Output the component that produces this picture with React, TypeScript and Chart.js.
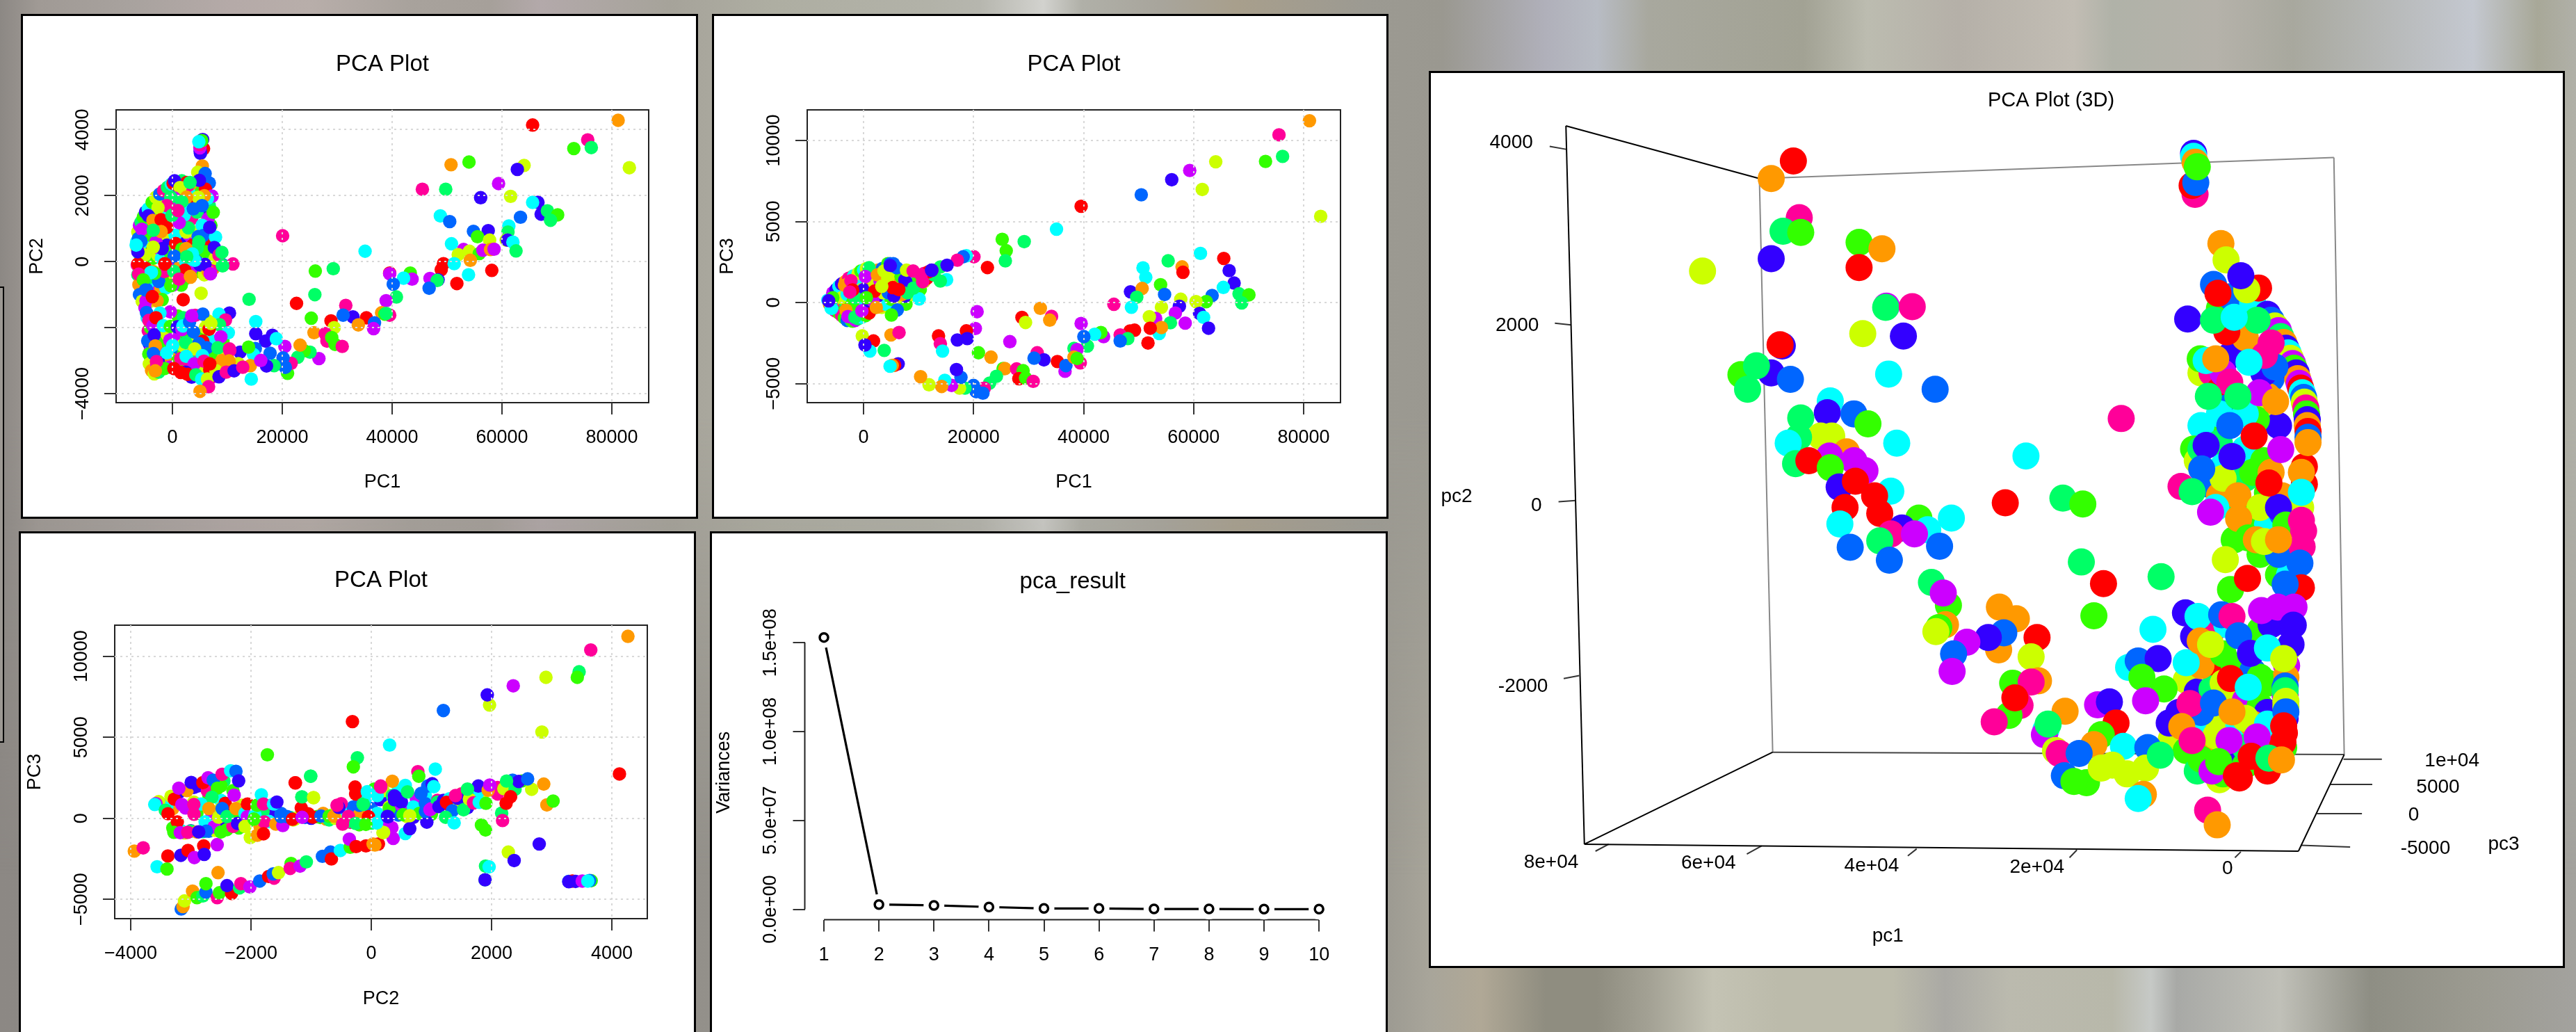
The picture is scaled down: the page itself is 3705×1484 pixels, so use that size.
import { useEffect, useRef } from "react";
import { Chart, registerables } from "chart.js";
Chart.register(...registerables);
Chart.defaults.font.family = "'Liberation Sans', Arial, sans-serif";
Chart.defaults.color = "#000";

type Pt = [number, number, number];
// R rainbow(10): 0 red,1 orange,2 yellow,3 green,4 spring,5 cyan,6 azure,7 blue,8 purple,9 pink
const rainbow10 = ["#FF0000","#FF9900","#CCFF00","#33FF00","#00FF66","#00FFFF","#0066FF","#3300FF","#CC00FF","#FF0099"];

const pc1Pc2Under: Pt[] = [
[-5800,800,6],[-5500,700,3],[-5300,1000,2],[-5000,1200,5],[-4700,1000,9],[-4300,1100,3],[-4000,1400,0],[-3600,1500,8],[-3300,1650,4],[-2900,1400,7],[-2600,1200,5],[-2200,1500,3],[-1900,1800,1],[-1500,1700,6],[-1200,1950,2],[-800,1500,5],[-600,1850,8],[-200,1700,9],[200,1500,1],[600,1900,3],[900,2100,7],[1300,1950,5],[1700,2150,9],[2000,1700,2],[2300,1500,8],[2800,1700,5],[3000,2050,6],[3400,2100,2],[3800,1850,4],[4200,2200,5],[4500,1750,0],[5000,1800,9],[5300,2200,3],[5700,1500,1],[6200,1600,7],[6700,1700,4],[7000,1100,3],[-5900,200,4],[-5500,400,8],[-5200,-100,1],[-4800,500,6],[-4500,200,7],[-4200,500,5],[-3800,300,0],[-3500,100,3],[-3200,300,6],[-2700,200,2],[-2400,400,8],[-2000,600,4],[-1500,700,2],[-1000,500,7],[-700,100,5],[-1000,-300,3],[-600,-500,0],[-200,-200,8],[200,-600,2],[700,-300,5],[900,100,6],[1200,300,9],[1800,900,3],[2200,600,7],[2600,300,4],[3200,700,8],[3700,500,0],[4000,900,2],[4300,200,6],[4800,-300,3],[5300,500,9],[5800,-400,2],[6300,600,7],[6700,200,5],[7300,300,4],[7500,-200,1],[8000,-100,9],[-5800,-300,2],[-5500,-700,7],[-5400,-900,3],[-5200,-500,6],[-4900,-200,0],[-4400,-800,8],[-4000,-1200,2],[-3800,-600,7],[-3400,-800,5],[-3000,-1000,4],[-2600,-900,8],[-2100,-800,1],[-1700,-600,3],[-1200,-800,5],
[-4600,-1700,5],[-4400,-2100,9],[-4200,-2500,7],[-4000,-2700,8],[-3900,-2950,4],[-3700,-3150,7],[-3400,-3250,5],[-2900,-2700,3],[-2600,-2200,7],[-2200,-2600,9],[-1800,-2400,1],[-1600,-2900,4],[-1200,-3000,7],[-800,-2500,3],[-300,-2800,2],[100,-2100,7],[700,-2400,9],[1100,-2700,6],[1400,-2200,2],[2000,-2800,3],[2300,-2100,1],[2800,-2600,8],[3100,-2300,4],[3400,-2800,6],[3700,-2500,9],[4300,-2900,4],[4700,-2700,8],[5100,-2200,3],[5600,-2700,1],[6100,-3000,7],[6600,-2600,4],[7100,-2400,5],[7500,-3000,6],[8100,-2900,9],[8700,-2800,2],[9200,-2400,3],[9500,-2100,1],[6100,-3300,3],[7200,-3500,8],[7000,-3500,9],[4500,-3300,2],[3300,-3300,1],[1800,-3100,3],[-200,-2950,1],
];

const pc1Pc2: Pt[] = [
[-6500,600,5],[-6400,400,1],[-6300,900,2],[-6200,700,6],[-6000,1100,8],[-5700,1200,4],[-5300,1350,3],[-4900,1500,7],[-4400,1600,5],[-3700,1800,3],[-3000,1950,2],[-2300,2050,6],[-1600,2150,9],[-900,2250,4],[-200,2350,5],[700,2350,3],[1700,2450,4],[2600,2400,0],[3300,2350,1],
[-6400,-100,9],[-6300,-400,4],[-6100,-700,1],[-6000,-1000,6],[-5500,-1200,2],[-5000,-1400,8],[-5000,200,2],[-4000,800,3],[-3000,600,8],[-2000,100,5],[-4500,-500,4],[-3500,-300,1],[-2500,-600,6],[-1500,-300,9],[-500,300,3],[500,800,5],[1500,500,7],[2500,900,2],[3500,1300,9],[4500,1500,4],[5500,1100,6],[6500,1300,8],[7000,600,0],[6000,300,3],[4500,400,4],[3000,100,5],[1500,-100,1],[2500,-500,3],[3500,-200,8],[5000,-100,7],[6500,-300,1],[7800,100,2],[8500,250,3],[9200,-100,6],[-3000,1000,5],
[-4500,-2400,6],[-4000,-2000,3],[-4300,-2800,3],[-4200,-3100,2],[-3800,-3300,1],[-3300,-3400,2],[-2500,-3350,4],[-3000,-2000,5],[-2000,-2300,3],[-1000,-2200,2],[500,-2200,8],[2500,-2200,3],[4500,-2400,2],[6000,-2000,2],[7000,-2800,3],[8000,-3200,2],[3000,-3200,9],[1000,-3000,3],[-500,-3200,8],[9000,-3000,1],
[1000,-1650,3],[2000,-1700,4],[6500,-1800,2],[7500,-1900,9],[3500,-3500,7],
[81140,4284,1],[65570,4141,0],[75600,3692,9],[76250,3458,4],[73070,3427,3],[83180,2846,2],[64020,2917,2],[62790,2795,7],[53990,3019,3],[50720,2938,1],[59370,2366,8],[45500,2193,9],[49750,2193,4],[56110,1938,7],[61570,1979,2],[66540,1795,7],[65570,1795,5],[67120,1438,7],[68260,1540,4],[70130,1418,3],[68830,1255,4],[63360,1346,6],[48770,1387,5],[50480,1214,6],[61240,1081,5],[61080,898,4],[54800,918,6],[57490,938,7],[55540,755,3],[57740,653,2],[60760,653,2],[61000,653,7],[61980,592,5],[50800,541,5],[62550,326,4],[53000,367,8],[52030,214,2],[54070,316,2],[55860,245,3],[56510,347,8],[57900,367,1],[58550,377,8],[54230,41,1],[49340,-61,0],[48930,-245,0],[51290,-61,5],[58140,-265,0],[53900,-398,5],[51780,-663,0],[48360,-551,7],[46890,-510,8],[48200,-571,4],[46730,-806,6],
[35070,316,5],[20060,785,9],[26010,-286,3],[29280,-214,4],[25930,-1000,4],[39550,-347,0],[39550,-367,8],[43300,-347,3],[43630,-530,8],[42080,-500,5],[40200,-683,6],[40780,-1071,4],[38900,-1183,8],[22590,-1265,0],[13950,-1142,4],[5220,-959,2],[1957,-1153,0],[31560,-1326,9],[39550,-1622,9],[38080,-1550,1],[38650,-1591,3],[38900,-1570,4],[35310,-1703,0],[32860,-1673,7],[31070,-1622,6],[33840,-1918,1],[36780,-1856,6],[36620,-2030,8],[28870,-1795,0],[25280,-1714,3],[29440,-2000,2],[25770,-2152,1],[27810,-2183,9],[28130,-2407,9],[29000,-2300,3],[29600,-2509,3],[30910,-2570,9],[26670,-2938,8],[25040,-2744,4],[24000,-2700,3],[22830,-2897,4],[23240,-2530,1],[20470,-2570,8],[20960,-3386,3],[21610,-3080,9],[20550,-3203,6],[20140,-2917,6],[18510,-3152,4],[17130,-3162,7],[17780,-2774,6],[18190,-2234,7],[16960,-2407,7],[15170,-2183,7],[18920,-2336,5],[15170,-1816,5],[15090,-2632,6],[14760,-2815,5],[12310,-2744,7],[10440,-2693,9],[13860,-2590,3],[14190,-3152,1],[11990,-3091,2],[14350,-3560,5],[10360,-3050,1],
[-6290,-70,0],[-1350,-70,0],[11010,-70,9],[9115,-120,4],[6880,-365,8],[5910,-85,7],[2365,20,5],[4050,40,5],[2240,-260,0],[3290,-470,1],[1266,-540,9],[250,-295,4],[1600,-715,3],[40,-715,8],[-300,-730,3],[-5230,-540,3],[-3965,-330,5],[-6160,-380,9],[-3200,-350,3],[-4725,-842,6],[-3630,-1067,0],[-1860,-1150,3],[-2785,-1190,1],[-4810,-1190,8],[-380,-1522,8],[-4725,-1543,6],[-2280,-1560,5],[-4300,-1783,9],[-3545,-1943,8],[-3000,-1700,0],[-1646,-1943,5],[-380,-1965,3],[886,-1978,7],[1730,-2063,8],[1900,-1950,5],[3130,-1825,6],[3835,-2133,6],[4140,-1627,9],[5530,-1590,6],[3500,-1640,8],[10380,-1558,7],[8480,-1593,5],[9660,-1768,9],[8570,-1910,4],[6670,-2050,0],[10170,-2155,5],[8820,-2280,8],[7000,-1870,2],
[-3330,-2225,7],[-3125,-2555,1],[-3460,-2785,6],[-1013,-2764,5],[-470,-2380,8],[1860,-2540,2],[40,-2540,5],[2400,-2450,4],[5530,-2414,0],[6240,-2610,6],[4800,-2480,6],[8270,-2610,4],[4050,-2645,2],[5440,-2850,5],[1520,-2940,9],[2500,-2870,5],[3960,-3100,8],[5740,-3017,9],[-2830,-3172,8],[-1435,-3240,3],[-2910,-3030,9],[-3125,-3311,1],[253,-3240,0],[2400,-3350,7],[1520,-3360,0],[2785,-3416,0],[4260,-3430,4],[5317,-3558,5],[6800,-3277,0],[7940,-3310,2],[6800,-3100,0],[6370,-3558,2],[8480,-3490,7],[6580,-3790,9],[5025,-3930,1],[10380,-2646,9],[10290,-3010,1],[9960,-3085,1],[9800,-3350,9],[11230,-3310,7],[16080,-2995,8],[12800,-3200,9],
[5660,3424,0],[5100,3284,7],[5050,3350,7],[5000,3450,8],[5000,3550,9],[5500,3700,7],[5350,3670,3],[4810,3635,5],[5444,2899,1],[4600,2708,2],[5950,2670,6],[6710,2385,6],[6000,2200,0],[4900,2463,7],[126,2372,0],[400,2450,7],[2785,2300,9],[1390,2245,2],[3200,2400,4],[7216,1985,8],[6370,1915,5],[5800,2000,1],[4684,1950,2],[2570,1955,1],[340,1930,8],[1700,1820,4],[-300,1950,4],[-1000,1700,9],[-2620,1635,2],[-4390,1390,7],[-3545,1250,1],[-2060,1270,0],[-1010,1040,0],[-2060,910,1],[-5570,983,8],[-3500,950,4],[2150,1410,5],[2910,1025,4],[7430,1495,3],[5400,1700,6],[3800,1600,6],[1230,1180,8],[-100,1400,4],[1000,1550,9],[5400,1100,5],[4684,758,6],[5610,793,6],[7850,743,5],[4800,600,4],[6800,1040,7],[595,547,0],[1700,380,3],[2490,394,1],[3630,232,5],[-1860,394,7],[-3500,440,2],[-5740,618,6],[-6290,300,7],[-6600,500,5],[300,170,6],[7630,427,7],[8480,196,9],[9000,280,4],[-1386,-61,0],[-3832,-326,5],[-5300,-551,3],[-4893,-857,6],[-3670,-1061,0],[1223,-530,9],[3262,-449,1],[6932,-367,8],[9134,-122,4],[3500,163,5],[2600,150,4],
];

const pc1Pc3Under: Pt[] = [
[-5500,0,2],[-5300,400,9],[-4900,500,3],[-4800,-200,6],[-4400,900,8],[-4200,300,5],[-4000,-400,1],[-3700,900,2],[-3600,200,7],[-3300,-300,4],[-3000,1100,6],[-2900,100,0],[-2700,-700,8],[-2300,1100,3],[-2300,400,7],[-2000,-500,5],[-1700,1400,1],[-1500,800,5],[-1300,-400,2],[-1200,1300,7],[-900,300,8],[-700,1600,4],[-600,-300,1],[-200,1300,0],[-100,400,2],[300,-200,5],[500,1200,9],[800,1850,3],[1200,700,4],[1400,1500,6],[1500,-400,3],[1800,1300,5],[2200,200,0],[2300,1000,7],[2700,1500,3],[2900,300,6],[3100,1900,5],[3300,-300,2],[3700,700,5],[3900,1200,0],[4100,200,7],[4300,2100,5],[4700,900,8],[4900,-100,2],[5100,1800,1],[5500,700,9],[5700,-200,3],[6000,1700,4],[6300,400,7],[6600,1100,2],[7100,300,9],[7400,1000,5],[7700,-100,3],[8200,900,0],[8500,1700,3],[8800,500,2],[9500,1500,1],[9800,1100,7],[10300,800,3],[11000,1300,2],[11500,1500,0],[12800,1700,4],
[-4800,700,1],[-3800,600,9],[-3400,800,4],[-2600,1000,8],[-2100,1600,2],[-1400,1500,9],[-800,1100,5],[-400,800,2],[200,1700,6],[700,1000,1],[1000,1700,8],[1600,1800,9],[2200,1600,4],[2600,2000,1],[3400,2100,6],[3600,1300,9],[4400,2400,3],[5600,2000,5],[6500,2000,8],[7000,1200,6],[7300,1800,9],[-3400,-700,6],[-2500,-900,7],[-1800,-800,9],[-1000,-700,6],[-500,-600,3],[200,-600,9],[900,-200,7],[1800,-100,3],[2700,-100,5],[3700,100,8],[4500,100,1],[5300,100,5],[6500,100,3],[7500,400,7],
];

const pc1Pc3: Pt[] = [
[-6500,150,5],[-6200,-100,1],[-5900,-350,5],[-5600,600,8],[-5200,-500,9],[-5000,800,7],[-4500,-650,3],[-4500,1000,5],[-4000,-800,9],[-4000,1150,7],[-3500,-950,3],[-3300,1300,1],[-3000,-1100,6],[-2700,1500,9],[-2300,-1100,4],[-2000,-1150,3],[-1500,-1100,8],[-1800,1650,5],[-1000,1800,2],[-500,1950,3],[0,2000,5],[500,2100,2],[1000,2150,4],[-1000,-1000,4],[-300,-900,5],[400,-800,3],[1000,-650,0],[-4000,300,2],[-3000,500,5],[-2000,0,3],[-1000,500,9],[0,800,7],[1000,300,5],[2000,1200,2],[3000,1300,8],[4000,1500,4],[5000,1500,2],[6000,1200,1],[6800,1600,3],[8000,1800,2],[8500,1400,5],[3000,-200,1],[4000,-100,5],[5000,200,3],[6000,300,2],[7000,500,1],[8000,600,4],[9000,1100,7],[10000,1500,3],[-2500,-300,3],[-1500,300,4],[2500,400,7],[3500,600,2],[4500,600,6],[5500,400,7],[11000,1800,9],[11800,1900,0],
[81060,11220,1],[75520,10350,9],[76170,9020,4],[73070,8710,3],[64020,8690,2],[59290,8150,8],[56020,7580,7],[61570,6980,2],[50480,6650,6],[39550,5940,0],[83100,5320,2],[35070,4530,5],[25200,3906,3],[29200,3760,4],[25930,3200,3],[25770,2577,4],[61240,3034,5],[65480,2722,0],[55370,2577,4],[57900,2203,1],[58060,1870,0],[66460,1974,7],[50800,2140,5],[51300,1558,5],[67360,1205,7],[53990,1100,3],[48520,665,7],[50640,873,1],[49660,332,4],[54720,499,6],[65400,935,5],[63360,436,6],[68260,540,4],[70050,478,3],[68750,-20,4],[62300,60,3],[57660,208,2],[60430,62,2],[45500,-104,9],[48690,-290,5],[54150,-290,2],[57410,-229,7],[56680,-644,8],[61080,-665,7],[61810,-914,5],[53090,-977,8],[51950,-873,2],[58470,-1268,8],[55780,-1247,4],[62710,-1580,7],[53740,-1912,5],[54150,-1538,1],[52110,-1580,0],[51700,-2494,0],[48440,-1750,0],[49260,-1704,0],[46650,-1995,9],[48030,-2223,4],[46650,-2369,6],[43630,-2099,8],[43140,-1850,3],[42000,-1953,5],[40690,-2680,4],[40040,-2099,6],[39550,-1288,8],[34170,-852,9],[33840,-1080,1],[32130,-353,1],[28790,-914,0],[29440,-1226,2],[20630,-561,8],[20310,-1600,8],[18680,-1745,0],[18840,-2223,7],[17040,-2306,7],[13620,-2057,0],[13950,-2535,9],[14350,-2992,5],[26590,-2410,8],[20880,-3096,3],[23160,-3366,1],[31560,-3096,9],[32780,-3532,7],[30990,-3429,6],[35230,-3636,0],[36620,-4239,8],[36780,-3886,6],[38250,-2826,4],[38800,-2900,8],[38250,-3366,1],[39390,-3720,9],[38820,-3449,3],[25360,-4073,3],[25690,-4073,1],[27810,-4094,9],[29000,-4200,3],[28220,-4696,0],[29440,-4655,3],[30830,-4862,9],[24140,-4550,4],[22910,-4966,4],[21940,-5278,9],[19980,-5112,6],[20470,-5486,6],[21690,-5590,6],[20470,-5486,6],[18430,-5278,4],[17450,-5278,2],[16000,-5112,8],[14760,-4800,5],[14190,-5174,1],[11900,-5070,2],[10360,-4572,1],[17700,-4613,6],[16880,-4135,7],
[-245,-2057,2],[1794,-2369,0],[1142,-2992,5],[245,-2618,7],[3750,-2950,4],[4975,-1995,1],[6440,-1850,9],[6280,-3782,7],[5627,-3865,0],[5200,-3880,1],[4810,-3927,5],
[20060,2826,9],[18675,2888,5],[18100,2826,6],[17040,2618,9],[13950,2200,4],[15090,1413,5],[13950,1330,4],[15170,2307,7],[12400,1995,0],[12400,1995,7],[22510,2161,0],[10110,229,5],[6116,-457,6],[5056,-769,3],
[-5800,-360,5],[-5600,300,3],[-6350,110,7],[-2635,1210,2],[-3480,1067,1],[-2300,1350,9],[-2000,780,0],[-2500,650,9],[-3190,-476,1],[-2850,-861,8],[-1600,-900,4],[316,1610,8],[2507,1710,1],[-316,-505,8],[1000,110,7],[1710,110,8],[2000,711,0],[500,300,3],[2300,-300,1],[3700,1950,2],[4836,2400,6],[6013,2150,6],[5400,2400,6],[4836,2280,7],[4400,1500,2],[7495,1397,7],[6400,800,0],[5292,925,0],[3300,1000,2],[9090,896,4],[7800,2000,2],[10445,1710,9],[10737,1281,9],[9000,1950,9],[12344,1997,7],
];

const pc2Pc3Under: Pt[] = [
[-3450,800,3],[-3300,600,1],[-3250,-750,2],[-3150,-800,5],[-3000,-780,7],[-2950,1000,2],[-2900,300,3],[-2800,-820,4],[-2700,1400,3],[-2650,300,8],[-2600,1900,6],[-2550,-700,1],[-2500,1100,5],[-2450,2300,4],[-2400,-400,7],[-2350,500,0],[-2300,1700,3],[-2200,-600,3],[-2150,800,2],[-2050,-200,3],[-1950,500,7],[-1850,-500,1],[-1750,300,9],[-1650,100,7],[-1450,-100,6],[-1350,50,4],[-1200,100,2],[-1100,50,6],[-850,50,3],[-750,-50,1],[-650,200,2],[-550,0,3],[-450,300,5],[-350,-250,9],[-300,700,6],[-200,200,1],[-150,1100,1],[0,600,6],[50,1800,3],[150,1150,7],[250,-100,8],[300,700,2],[450,200,6],[450,1700,5],[600,500,1],[700,50,7],[750,1200,8],[900,1400,5],[1000,250,3],[1100,1100,9],[1150,950,4],[1300,800,0],[1450,1050,2],[1600,650,7],[1750,1600,9],[1850,1100,2],[2000,1750,4],[2100,1500,9],[2300,2050,3],[2500,2300,3],[1500,1500,2],
];

const pc2Pc3: Pt[] = [
[-3500,900,4],[-3400,700,5],[-3300,-600,3],[-3200,1600,7],[-3100,-900,2],[-3000,-800,4],[-2950,1900,7],[-2900,-850,1],[-2800,2100,0],[-2700,-800,6],[-2600,-750,2],[-2500,2000,3],[-2400,-700,3],[-2300,-500,9],[-2500,600,2],[-2200,300,3],[-2000,700,9],[-1800,400,4],[-1700,-200,5],[-1500,300,6],[-1300,-100,2],[-1000,0,7],[-900,100,3],[-800,300,1],[-700,-100,4],[-600,0,2],[-500,900,9],[-400,-200,4],[-200,-400,3],[0,-300,4],[100,300,5],[300,600,3],[500,800,8],[600,100,2],[700,700,5],[800,300,3],[900,900,6],[1000,600,8],[1100,1000,4],[1200,1100,7],[1300,1200,5],[1400,1300,2],[1500,1500,9],[1600,1550,3],[1700,1400,6],[1800,1700,5],[1950,1800,4],[2100,1900,9],[2250,2200,3],[2350,2350,6],[-200,800,6],[-100,1200,5],[200,1700,2],[350,1400,4],[500,1000,7],
[4268,11236,1],[3650,10392,9],[3456,9045,4],[3426,8703,3],[2905,8703,2],[2361,8180,8],[1967,6995,2],[1929,7618,7],[1199,6653,6],[-313,5970,0],[2838,5327,2],[305,4522,5],[-1728,3920,3],[-231,3739,4],[-298,3176,3],[-1006,2593,4],[1065,3035,5],[4127,2734,0],[775,2874,9],[790,2593,3],[-1266,2191,0],[-1155,1306,4],[-961,1266,2],[2868,2110,1],[2920,824,1],[3024,1065,3],[2667,1789,2],[2793,-1588,7],[2168,322,4],[2183,-141,9],[1832,-422,3],[1900,-724,3],[2279,-2090,2],[2376,-2613,7],[1900,-2955,4],[1960,-3000,5],[1892,-3799,4],[1892,-3799,7],
[3285,-3900,6],[3345,-3880,0],[3285,-3920,7],[3397,-3900,7],[3508,-3880,8],[3657,-3860,3],[3630,-3850,6],[3600,-3880,5],
[-3940,-2030,1],[-3792,-1829,9],[-3382,-2332,0],[-3166,-2291,7],[-3047,-1990,0],[-2942,-2432,8],[-2786,-1708,0],[-2778,-2231,7],[-2562,-1628,8],[-3561,-2995,5],[-3397,-3136,3],[-2548,-3357,1],
[-3160,-5600,6],[-3130,-5450,1],[-3106,-5105,2],[-2972,-4502,1],[-2898,-4904,3],[-2800,-4800,4],[-2749,-4563,6],[-2749,-4040,3],[-2562,-4904,9],[-2525,-4603,3],[-2324,-4643,0],[-2399,-4160,7],[-2190,-4300,4],[-2168,-4040,9],[-2019,-4241,8],[-1855,-3879,6],[-1706,-3598,0],[-1616,-3698,9],[-1631,-3437,6],[-1542,-3357,2],[-1333,-2794,3],[-1348,-3095,9],[-1184,-2955,8],[-1080,-2693,4],[-812,-2352,6],[-678,-2090,6],[-663,-2512,0],[-514,-1990,5],[-350,-1789,3],[-365,-1286,8],[-253,-1749,0],[-89,-1708,0],[30,-1588,1],[119,-1588,0],[60,-1650,1],[194,-884,2],[365,-1246,8],[566,-945,5],[640,-643,7],[343,-583,8],[924,-241,7],
[-3534,1023,2],[-3580,900,8],[-3600,850,5],[-3425,494,4],[-3380,280,0],[-3330,1353,2],[-3275,1181,0],[-3225,-223,0],[-3283,-868,3],[-3176,-890,8],[-3052,-868,9],[-3090,636,8],[-3150,850,8],[-3063,1710,1],[-3200,1856,8],[-2994,2212,7],[-2878,1998,7],[-2724,1684,9],[-2800,2200,0],[-2713,2500,8],[-2628,2354,6],[-2480,2715,9],[-2338,2930,5],[-2250,2900,6],[-2205,2311,7],[-2558,1856,3],[-2650,1300,4],[-2832,880,5],[-2950,850,9],[-2700,600,1],[-2948,250,9],[-2763,-223,5],[-2616,-537,8],[-2743,-795,6],[-2870,-840,7],[-2500,-850,3],[-2539,64,2],[-2428,924,0],[-2480,600,6],[-2400,100,4],[-2280,1426,8],[-2250,600,1],[-2223,-322,7],[-2100,300,5],[-2058,880,0],[-2061,94,8],[-1934,206,5],[-1900,800,3],[-1828,1452,5],[-1792,880,9],[-1626,880,5],[-1570,1000,7],[-1780,-223,9],[-1587,-365,1],[-1471,-450,8],[-2011,-1194,2],[-1896,-1050,1],[-1792,-960,0],[-2100,-500,2],[-1950,-50,3],[-1500,100,6],[-1400,100,6],[-1280,-77,2],[-1310,-60,0],[-1164,636,0],[-1152,1323,4],[-960,1280,2],[-1260,2183,0],[-1009,2600,4],[-1048,280,0],[-970,64,0],[-1150,60,8],[-836,137,6],[-700,130,3],[-620,130,1],[-540,666,7],[-570,800,9],[-477,-365,9],[-380,120,9],[-269,1925,0],[-260,1500,0],[-135,880,4],[-46,94,0],[-66,1641,5],[100,1400,5],[158,1925,9],[205,-868,2],[350,2285,1],[281,94,7],[89,-292,5],[-260,-320,4],[-90,-380,3],[385,1138,7],[385,1380,7],
[417,1266,7],[566,2030,5],[-134,864,4],[156,1990,9],[-60,1600,5],[268,120,7],[529,221,3],[640,161,2],[901,422,6],[976,523,8],[827,1528,6],[939,1990,6],[1013,2131,7],[1040,1950,5],[603,1628,4],[1125,724,7],[1251,985,0],[1348,462,6],[1236,60,4],[1378,-281,5],[1438,1226,7],[1535,523,4],[1631,1186,2],[1700,950,9],[1795,985,5],[1907,925,3],[1780,1990,7],[1944,1729,1],[1970,2050,8],[2205,1829,2],[2391,1789,4],[2451,2271,7],[2600,2432,6],[2250,2300,4],[2242,925,0],[2317,1327,0],[1400,1400,9],[1600,1800,4],
];

const screeComponents = [1,2,3,4,5,6,7,8,9,10];
const screeVariances = [1.529e8,2.7e6,2.2e6,1.3e6,5e5,5e5,2e5,2e5,1e5,1e5];
const screeYTicks = [0,5e7,1e8,1.5e8];
const screeYTickLabels = ["0.0e+00","5.0e+07","1.0e+08","1.5e+08"];

// 3D plot: positions read on the projected view plane
const view3dUnder: Pt[] = [
[1085,420,3],[1100,400,6],[1130,410,5],[1115,470,8],[1060,530,2],[1130,490,4],[1155,540,6],[1075,530,9],[1085,560,0],[1150,570,1],[1140,600,2],[1165,620,7],[1070,625,3],[1095,590,6],[1060,620,5],[1085,650,4],[1050,660,3],[1055,680,2],[1120,660,5],[1145,680,3],[1090,690,5],[1120,710,4],[1150,735,3],[1170,740,1],[1070,720,6],[1085,740,1],[1105,760,4],[1125,775,3],[1150,790,5],[1170,770,6],[1140,840,3],[1105,815,3],[1165,875,3],[1180,875,5],[1195,830,4],
[1050,980,7],[1075,970,9],[1095,960,5],[1140,970,3],[1155,960,7],[1060,1010,8],[1080,1035,0],[1105,1030,3],[1130,1040,6],[1150,1060,3],[1040,1055,2],[1055,1075,7],[1075,1070,4],[1095,1080,2],[1120,1090,8],[1140,1100,3],[1150,1110,7],[1060,1140,5],[1085,1130,2],[1110,1140,5],[1130,1130,1],[1020,1155,2],[1040,1175,3],[1055,1210,4],[1065,1190,7],[1080,1170,1],[1100,1190,7],[1120,1200,3],[1140,1170,8],[1160,1160,3],[1030,1110,7],
];

const view3d: Pt[] = [
[1150,430,7],[1155,440,6],[1160,450,2],[1165,458,8],[1168,468,4],[1172,478,1],[1175,488,7],[1178,496,5],[1181,505,2],[1184,514,8],[1186,522,3],[1189,530,7],[1191,540,1],[1193,548,8],[1195,556,0],[1197,564,5],[1199,572,6],[1200,580,2],[1202,590,9],[1203,600,3],[1204,610,7],[1204,620,1],[1205,630,0],[1205,640,6],[1200,690,0],[1200,720,0],[1195,760,2],
[1180,960,7],[1178,1000,2],[1176,1030,8],[1175,1050,1],[1174,1065,6],[1174,1080,8],[1175,1100,2],[1174,1120,7],[1173,1145,0],[1172,1170,3],[1165,1180,9],
[1100,900,3],[1130,700,3],[1090,710,2],[1110,740,1],[1080,760,5],[1140,760,2],[1165,760,7],[1175,790,3],[1165,840,6],[1135,610,3],[1085,600,5],[1060,660,4],[1120,600,5],[1155,700,1],[1100,500,7],[1120,470,1],[1095,460,0],[1145,530,7],[1090,530,8],[1160,520,6],[1060,1030,1],[1090,1010,3],[1140,1050,3],[1090,1060,2],[1060,1110,6],[1120,1120,2],[1150,1130,5],[1080,1150,2],[1120,1170,4],[1060,1190,3],[1085,1225,2],[1090,1215,3],[1150,1210,0],[1075,1210,8],
[508,168,0],[478,198,1],[516,265,9],[494,288,4],[518,290,3],[478,335,7],[385,356,2],[597,307,3],[628,318,1],[597,350,0],[634,416,8],[633,418,4],[669,417,9],[602,463,2],[657,467,7],[493,484,7],[490,482,0],[478,530,7],[437,533,3],[458,518,4],[446,558,4],[504,541,6],[637,532,5],[700,558,6],[558,578,5],[518,607,4],[554,598,7],[590,600,6],[609,617,3],[648,650,5],[560,638,2],[545,638,2],[515,640,4],[501,650,5],[580,665,1],[557,672,8],[590,680,8],[605,697,8],[511,685,4],[529,680,0],[558,692,3],[570,725,7],[592,715,0],[640,732,5],[618,740,0],[578,760,0],[625,770,0],[571,788,5],[722,778,5],[678,778,3],[655,795,7],[690,798,5],[640,805,9],[672,805,8],[625,817,4],[585,828,6],[706,826,6],[638,850,6],[823,672,5],[795,752,0],[873,744,4],[900,754,3],[952,608,9],[898,853,4],[928,890,0],[1006,878,4],[915,945,3],[695,888,4],[718,927,3],[711,906,8],[714,960,1],[705,965,3],[701,972,2],[787,930,1],[810,950,1],[838,982,0],[786,1003,1],[793,974,6],[772,982,7],[743,990,8],[725,1010,6],[723,1040,8],[830,1015,2],[995,968,5],[962,1033,5],[975,1022,6],[1002,1018,7],[1040,1025,5],[980,1050,3],[1010,1070,3],[985,1090,8],[1045,1095,9],[805,1060,3],[840,1056,1],[830,1058,9],[815,1098,9],[800,1115,3],[808,1085,0],[780,1126,9],[876,1108,1],[850,1140,5],[848,1148,8],[853,1130,4],[920,1097,8],[936,1092,7],[945,1128,0],[925,1148,3],[915,1165,1],[955,1168,5],[988,1170,6],[863,1175,2],[868,1180,9],[895,1180,6],[875,1218,6],[905,1230,3],[888,1228,3],[925,1205,2],[940,1200,2],[960,1215,2],[985,1205,2],[982,1250,1],[975,1257,5],[1005,1183,4],[1069,1277,9],[1082,1302,1],[1112,1222,0],
[1052,225,9],[1048,210,0],[1053,205,6],[1050,155,7],[1050,160,5],[1052,170,1],[1055,178,3],
[1087,309,1],[1094,337,2],[1077,379,6],[1138,385,0],[1122,388,2],[1114,364,7],[1083,394,0],[1042,438,7],[1077,440,4],[1136,440,4],[1105,435,5],[1155,479,9],[1146,500,9],[1059,506,3],[1067,509,5],[1080,506,1],[1125,512,5],[1099,546,9],[1139,564,8],[1070,570,4],[1110,570,4],[1161,579,1],[1099,620,6],[1132,638,0],[1168,661,8],[1067,654,7],[1102,673,7],[1205,649,1],[1196,700,1],[1196,734,5],[1061,694,6],[1033,724,9],[1048,733,4],[1073,768,8],[1152,718,0],[1111,779,1],[1196,782,9],[1199,800,9],[1197,827,9],[1194,855,6],[1124,812,3],[1135,815,1],[1146,818,2],[1165,815,1],[1093,849,2],[1123,881,0],[1196,897,0],[1174,891,6],[1142,936,8],[1164,930,8],[1186,930,8],[1039,940,7],[1056,946,5],[1088,943,6],[1102,946,9],[1111,979,6],[1185,961,7],[1182,994,7],[1059,988,1],[1073,994,2],[1100,1052,0],[1127,1009,7],[1150,1000,5],[1124,1067,5],[1172,1018,2],[1174,1073,4],[1175,1091,2],[1175,1109,6],[1172,1133,0],[1171,1161,0],[1077,1094,6],[1102,1109,1],[1136,1152,8],[1098,1158,8],[1017,1128,7],[1034,1134,1],[1048,1158,9],[1128,1185,0],[1152,1188,4],[1169,1191,1],[1084,1194,3],[1108,1218,0],
];

type Wire = [number, number, number, number, string];
const view3dWires: Wire[] = [
[200,108,225,1335,"#000"],[200,108,462,198,"#000"],[225,1335,480,1178,"#000"],[225,1335,1192,1347,"#000"],[1192,1347,1254,1182,"#000"],
[462,198,1240,162,"#888"],[480,1178,1254,1182,"#444"],[462,198,480,1178,"#888"],[1240,162,1254,1182,"#888"],
[240,1347,258,1335,"#333"],[445,1352,465,1338,"#333"],[663,1355,675,1343,"#333"],[882,1358,892,1345,"#333"],[1106,1358,1114,1348,"#333"],
[178,143,200,148,"#333"],[185,445,207,448,"#333"],[190,750,213,748,"#333"],[197,1052,218,1047,"#333"],
[1253,1190,1305,1190,"#333"],[1235,1233,1292,1233,"#333"],[1217,1283,1278,1283,"#333"],[1195,1337,1262,1340,"#333"],
];
const view3dLabelTexts = ["8e+04","6e+04","4e+04","2e+04","0","4000","2000","0","-2000","1e+04","5000","0","-5000","pc1","pc2","pc3"];
const view3dLabelX = [180,393,614,838,1096,126,134,160,142,1400,1381,1348,1364,636,52,1470];
const view3dLabelY = [1366,1368,1372,1375,1377,137,449,757,1066,1193,1238,1286,1343,1492,741,1335];

const tickTexts = (v: number) => String(v).replace("-", "\u2212");
const pc1Ticks = [0,20000,40000,60000,80000];
const pc2Ticks = [-4000,-2000,0,2000,4000];
const pc3Ticks = [-5000,0,5000,10000];
// R drops the overlapping -2000 label on the first plot's y axis
const pc2TickLabelsRotated = ["\u22124000","","0","2000","4000"];

const TICK_FONT = 27, TITLE_FONT = 33;
const LH = 1.2;

type Box = { left: number; top: number; width: number; height: number };
type Plot = { l: number; t: number; r: number; b: number };

function frameLayout(box: Box, plot: Plot, titleCy: number, titleSize: number) {
  const top = plot.t - box.top;
  const lh = titleSize * LH;
  const padTop = titleCy - box.top - lh / 2;
  return {
    H: box.height, W: box.width,
    left: plot.l - box.left, bottom: box.top + box.height - plot.b, right: box.left + box.width - plot.r,
    titlePad: { top: padTop, bottom: top - padTop - lh },
  };
}

const boxPlugin = {
  id: "rBox",
  beforeDatasetsDraw(chart: any) {
    const a = chart.chartArea, c = chart.ctx;
    c.save(); c.strokeStyle = "#222"; c.lineWidth = 2;
    c.strokeRect(a.left, a.top, a.right - a.left, a.bottom - a.top);
    c.restore();
  },
};

function axisOpts(o: any) {
  const isY = o.axis === "y";
  return {
    type: "linear", min: o.min, max: o.max,
    afterBuildTicks: (s: any) => { s.ticks = o.ticks.map((value: number) => ({ value })); },
    afterFit: (s: any) => { if (isY) s.width = o.size; else s.height = o.size; },
    grid: o.grid,
    border: o.border,
    ticks: isY
      ? { font: { size: TICK_FONT }, autoSkip: false, minRotation: 90, maxRotation: 90, crossAlign: "center", padding: o.pad, color: "#000", callback: o.fmt || tickTexts }
      : { font: { size: TICK_FONT }, autoSkip: false, maxRotation: 0, minRotation: 0, padding: o.pad, color: "#000", callback: o.fmt || tickTexts },
    title: { display: true, text: o.title, font: { size: TICK_FONT }, color: "#000", padding: o.titlePad },
  };
}

const dotGrid = { color: "#d8d8d8", lineWidth: 2, tickLength: 17, tickColor: "#333", tickWidth: 2, z: 1 };
const dotBorder = { display: false, dash: [3, 5] };

function scatterConfig(points: Pt[], box: Box, plot: Plot, tCy: number, xC: any, yC: any) {
  const f = frameLayout(box, plot, tCy, TITLE_FONT);
  return {
    type: "scatter",
    data: { datasets: [{
      data: points.map((p) => ({ x: p[0], y: p[1] })),
      pointBackgroundColor: points.map((p) => rainbow10[p[2]]),
      pointRadius: 9.7, pointBorderWidth: 0, pointHoverRadius: 9.7, clip: false,
    }] },
    options: {
      animation: false, responsive: false, devicePixelRatio: 1,
      layout: { autoPadding: false, padding: { left: 0, top: 0, right: f.right, bottom: 0 } },
      plugins: {
        legend: { display: false }, tooltip: { enabled: false },
        title: { display: true, text: "PCA Plot", fullSize: false, font: { size: TITLE_FONT, weight: "normal" }, color: "#000", padding: f.titlePad },
      },
      scales: {
        x: axisOpts({ axis: "x", size: f.bottom, pad: 17.5, grid: dotGrid, border: dotBorder, ...xC }),
        y: axisOpts({ axis: "y", size: f.left, pad: -7, grid: dotGrid, border: dotBorder, ...yC }),
      },
    },
    plugins: [boxPlugin],
  };
}

const screeAxisPlugin = {
  id: "rScreeAxes",
  beforeDatasetsDraw(chart: any) {
    const { ctx: c, scales: { x, y }, chartArea: a } = chart;
    c.save(); c.strokeStyle = "#222"; c.lineWidth = 2; c.beginPath();
    c.moveTo(a.left, y.getPixelForValue(screeYTicks[0])); c.lineTo(a.left, y.getPixelForValue(screeYTicks[3]));
    c.moveTo(x.getPixelForValue(1), a.bottom); c.lineTo(x.getPixelForValue(10), a.bottom);
    c.stroke(); c.restore();
  },
};

function screeConfig(box: Box, plot: Plot) {
  const f = frameLayout(box, plot, 837, TITLE_FONT);
  const grid = { drawOnChartArea: false, tickLength: 17, tickColor: "#333", tickWidth: 2, color: "#333", lineWidth: 2 };
  const pts = screeComponents.map((c, i) => ({ x: c, y: screeVariances[i] }));
  return {
    type: "scatter",
    data: { datasets: [
      { data: pts, pointRadius: 6, pointBackgroundColor: "#fff", pointBorderColor: "#000", pointBorderWidth: 3.5, clip: false },
      { data: pts, pointRadius: 15, pointBackgroundColor: "#fff", pointBorderWidth: 0, clip: false },
      { data: pts, showLine: true, borderColor: "#000", borderWidth: 3.2, pointRadius: 0, tension: 0, clip: false },
    ] },
    options: {
      animation: false, responsive: false, devicePixelRatio: 1,
      layout: { autoPadding: false, padding: { left: 0, top: 0, right: f.right, bottom: 0 } },
      plugins: {
        legend: { display: false }, tooltip: { enabled: false },
        title: { display: true, text: "pca_result", fullSize: false, font: { size: TITLE_FONT, weight: "normal" }, color: "#000", padding: f.titlePad },
      },
      scales: {
        x: axisOpts({ axis: "x", size: f.bottom, pad: 17.5, grid, border: { display: false }, min: 0.652, max: 10.39, ticks: screeComponents, title: "", titlePad: 0, fmt: (v: number) => String(v) }),
        y: axisOpts({ axis: "y", size: f.left, pad: -17, grid, border: { display: false }, min: -5.87e6, max: 1.598e8, ticks: screeYTicks, title: "Variances", titlePad: { top: 1.4, bottom: 0 }, fmt: (v: number) => screeYTickLabels[screeYTicks.indexOf(v)] }),
      },
    },
    plugins: [screeAxisPlugin],
  };
}

const labels3dPlugin = {
  id: "r3dLabels",
  afterDatasetsDraw(chart: any) {
    const { ctx: c, scales: { x, y } } = chart;
    c.save(); c.font = "28px 'Liberation Sans'"; c.fillStyle = "#000"; c.textAlign = "center"; c.textBaseline = "middle";
    view3dLabelTexts.forEach((t, i) => c.fillText(t, x.getPixelForValue(view3dLabelX[i]), y.getPixelForValue(view3dLabelY[i])));
    c.restore();
  },
};

function view3dConfig() {
  const pts = [...view3dUnder, ...view3d];
  const wires = view3dWires.map((w) => ({
    data: [{ x: w[0], y: w[1] }, { x: w[2], y: w[3] }], showLine: true, borderColor: w[4], borderWidth: 2, pointRadius: 0, clip: false,
  }));
  return {
    type: "scatter",
    data: { datasets: [{
      data: pts.map((p) => ({ x: p[0], y: p[1] })),
      pointBackgroundColor: pts.map((p) => rainbow10[p[2]]),
      pointRadius: 19.5, pointBorderWidth: 0, clip: false,
    }, ...wires] },
    options: {
      animation: false, responsive: false, devicePixelRatio: 1,
      layout: { autoPadding: false, padding: { left: 156, top: 0, right: 0, bottom: 0 } },
      plugins: {
        legend: { display: false }, tooltip: { enabled: false },
        title: { display: true, text: "PCA Plot (3D)", fullSize: false, font: { size: 29, weight: "normal" }, color: "#000", padding: { top: 22.3, bottom: 10 } },
      },
      scales: {
        x: { type: "linear", display: false, min: 164, max: 1550 },
        y: { type: "linear", display: false, min: 97.5, max: 1543, reverse: true },
      },
    },
    plugins: [labels3dPlugin],
  };
}

const topBg = "linear-gradient(90deg,#8c8884 0,#a09a95 1.5%,#a8a29e 5%,#b5aaa8 9%,#b8aeaa 12%,#a8a29c 16%,#a6a09a 19%,#b3a9aa 21%,#a6a39a 26%,#aeaea2 30%,#b2b2a8 36%,#b6b6ae 38%,#d2d2ce 40.5%,#b0b0a8 42%,#a8a59c 45%,#a89f8c 48%,#9c9a92 53%,#9a9890 56%,#b0b0ba 60%,#b8bcc4 62%,#a8a89e 64%,#a2a294 70%,#bcbcb0 72.5%,#b5b0a8 76%,#c2bdb4 80.5%,#b0b2a8 82%,#b5b2aa 86%,#a8a89e 89%,#c4c8d0 96%,#a8a898 98.5%,#b0b0a8 100%)";
const bottomBg = "linear-gradient(90deg,#8c8884 0,#9a9890 53.5%,#a8a59a 55.5%,#b0a896 57.5%,#8f8d80 60%,#8f8d80 62%,#a3a194 64%,#c4c3b4 66.5%,#bcbbab 69%,#bcbbab 73.5%,#aaa9a4 75.5%,#bbbaae 78%,#b8b8aa 82%,#c6c9c6 83.5%,#a8a9a6 84.5%,#c0c0b8 88.5%,#8e8e84 92%,#9b9a90 96%,#a3a29e 100%)";

function Panel({ box, make }: { box: Box; make: () => any }) {
  const ref = useRef<HTMLCanvasElement>(null);
  useEffect(() => {
    const chart = new Chart(ref.current as any, make());
    return () => chart.destroy();
  }, []);
  return (
    <div style={{ position: "absolute", left: box.left - 3, top: box.top - 3, width: box.width, height: box.height, border: "3px solid #000", background: "#fff" }}>
      <canvas ref={ref} width={box.width} height={box.height} style={{ display: "block", width: box.width, height: box.height }} />
    </div>
  );
}

const box1: Box = { left: 33, top: 23, width: 968, height: 720 };
const box2: Box = { left: 1027, top: 23, width: 967, height: 720 };
const box3: Box = { left: 30, top: 767, width: 968, height: 717 };
const box4: Box = { left: 1024, top: 767, width: 969, height: 717 };
const box5: Box = { left: 2058, top: 105, width: 1628, height: 1284 };

export default function App() {
  const pc1Axis = { ticks: pc1Ticks, title: "PC1" };
  return (
    <div style={{ position: "fixed", left: 0, top: 0, width: 3705, height: 1484, overflow: "hidden", background: bottomBg, fontFamily: "'Liberation Sans'" }}>
      <div style={{ position: "absolute", inset: 0, background: topBg, WebkitMaskImage: "linear-gradient(180deg,#000 0,#000 40%,transparent 85%)", maskImage: "linear-gradient(180deg,#000 0,#000 40%,transparent 85%)" }} />
      <div style={{ position: "absolute", left: -3, top: 412, width: 5, height: 652, border: "2px solid #000", background: "#9c9893" }} />
      <Panel box={box1} make={() => scatterConfig([...pc1Pc2Under, ...pc1Pc2], box1, { l: 167, t: 158, r: 933, b: 579 }, 92.5,
        { ...pc1Axis, min: -10253, max: 86700, titlePad: { top: 0, bottom: 33 } },
        { ticks: pc2Ticks, min: -4274, max: 4600, title: "PC2", titlePad: { top: 4.3, bottom: 0 }, fmt: (v: number) => pc2TickLabelsRotated[pc2Ticks.indexOf(v)] })} />
      <Panel box={box2} make={() => scatterConfig([...pc1Pc3Under, ...pc1Pc3], box2, { l: 1161, t: 158, r: 1928, b: 579 }, 92.5,
        { ...pc1Axis, min: -10253, max: 86700, titlePad: { top: 0, bottom: 33 } },
        { ticks: pc3Ticks, min: -6174, max: 11890, title: "PC3", titlePad: { top: 3, bottom: 0 } })} />
      <Panel box={box3} make={() => scatterConfig([...pc2Pc3Under, ...pc2Pc3], box3, { l: 165, t: 899, r: 931, b: 1321 }, 835.3,
        { ticks: pc2Ticks, min: -4266, max: 4590, title: "PC2", titlePad: { top: 0, bottom: 31 } },
        { ticks: pc3Ticks, min: -6200, max: 11924, title: "PC3", titlePad: { top: 4.3, bottom: 0 } })} />
      <Panel box={box4} make={() => screeConfig(box4, { l: 1157.5, t: 899, r: 1928, b: 1322.6 })} />
      <Panel box={box5} make={view3dConfig} />
    </div>
  );
}
